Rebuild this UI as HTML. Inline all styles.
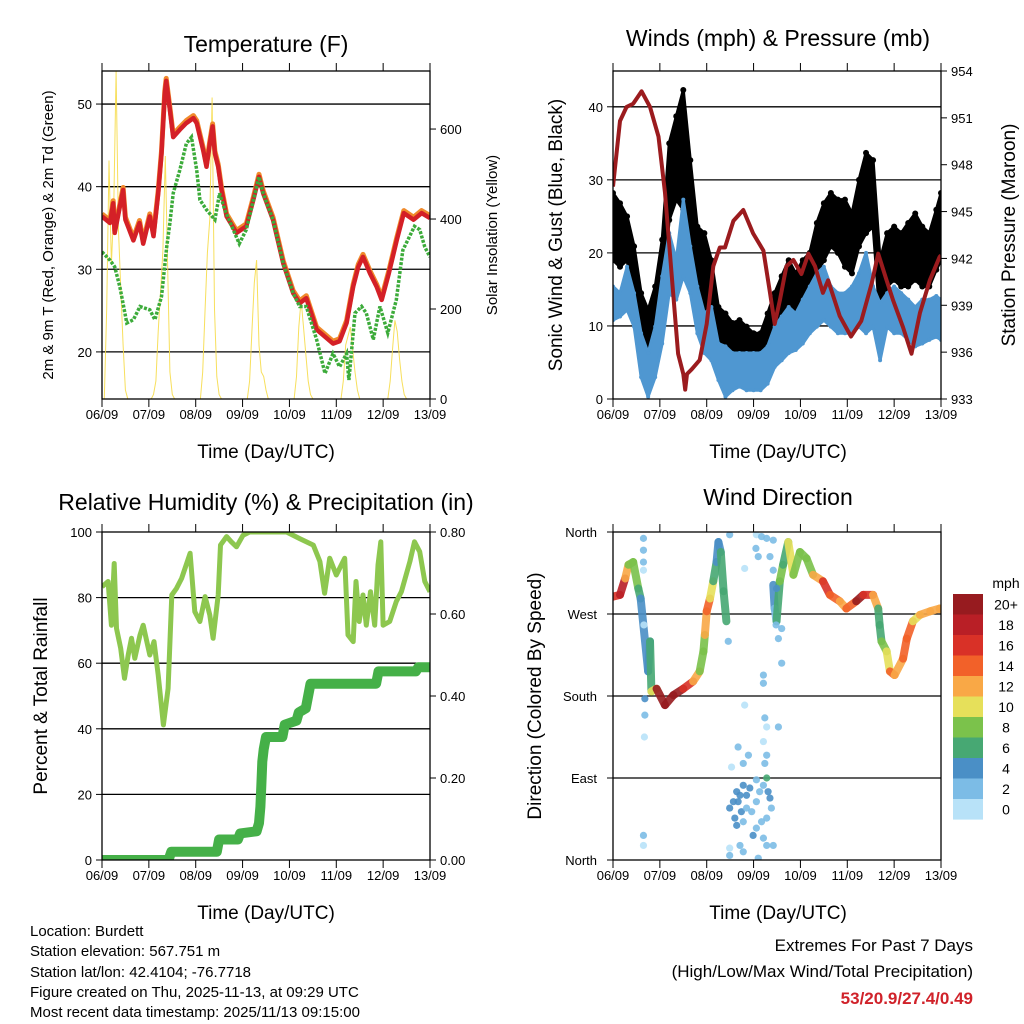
<!DOCTYPE html>
<html><head><meta charset="utf-8">
<style>
html,body{margin:0;padding:0;background:#fff;}
svg{display:block;font-family:"Liberation Sans",Arial,sans-serif;}
</style></head>
<body>
<svg id="chart" width="1024" height="1024" viewBox="0 0 1024 1024" xmlns="http://www.w3.org/2000/svg">
<rect x="0" y="0" width="1024" height="1024" fill="#fff"/>
<g id="layer"></g>
<text x="266" y="52" font-size="23" text-anchor="middle">Temperature (F)</text>
<text x="778" y="46" font-size="23" text-anchor="middle">Winds (mph) &amp; Pressure (mb)</text>
<text x="266" y="510" font-size="23" text-anchor="middle">Relative Humidity (%) &amp; Precipitation (in)</text>
<text x="778" y="505" font-size="23" text-anchor="middle">Wind Direction</text>
<text transform="translate(53,235) rotate(-90)" font-size="15" text-anchor="middle">2m &amp; 9m T (Red, Orange) &amp; 2m Td (Green)</text>
<text transform="translate(497,235) rotate(-90)" font-size="15" text-anchor="middle">Solar Insolation (Yellow)</text>
<text transform="translate(562,235) rotate(-90)" font-size="19" text-anchor="middle">Sonic Wind &amp; Gust (Blue, Black)</text>
<text transform="translate(1015,235) rotate(-90)" font-size="19" text-anchor="middle">Station Pressure (Maroon)</text>
<text transform="translate(47,696) rotate(-90)" font-size="19" text-anchor="middle">Percent &amp; Total Rainfall</text>
<text transform="translate(541,696) rotate(-90)" font-size="19" text-anchor="middle">Direction (Colored By Speed)</text>
<text x="266" y="458" font-size="19" text-anchor="middle">Time (Day/UTC)</text>
<text x="778" y="458" font-size="19" text-anchor="middle">Time (Day/UTC)</text>
<text x="266" y="919" font-size="19" text-anchor="middle">Time (Day/UTC)</text>
<text x="778" y="919" font-size="19" text-anchor="middle">Time (Day/UTC)</text>
<g font-size="15">
<text x="30" y="936">Location: Burdett</text>
<text x="30" y="956">Station elevation: 567.751 m</text>
<text x="30" y="977">Station lat/lon: 42.4104; -76.7718</text>
<text x="30" y="997">Figure created on Thu, 2025-11-13, at 09:29 UTC</text>
<text x="30" y="1017">Most recent data timestamp: 2025/11/13 09:15:00</text>
</g>
<g font-size="17" text-anchor="end">
<text x="973" y="951">Extremes For Past 7 Days</text>
<text x="973" y="977">(High/Low/Max Wind/Total Precipitation)</text>
<text x="973" y="1004" fill="#d0222a" font-weight="bold">53/20.9/27.4/0.49</text>
</g>
</svg>
<script>
// ---------- data ----------
const dayLabels = ["06/09","07/09","08/09","09/09","10/09","11/09","12/09","13/09"];
// Temperature (F)
const tempT = [0,0.17,0.24,0.27,0.45,0.5,0.67,0.8,0.88,1.02,1.1,1.2,1.27,1.34,1.37,1.45,1.52,1.66,1.8,1.95,2.02,2.16,2.23,2.3,2.36,2.41,2.48,2.55,2.66,2.87,3.08,3.23,3.35,3.44,3.65,3.87,4.08,4.22,4.36,4.58,4.93,5.07,5.22,5.36,5.47,5.57,5.72,5.86,5.97,6.12,6.29,6.44,6.65,6.82,7.0];
const tempV = [36.4,35.6,38,34.4,39.6,36,33.5,35.6,33.1,36.4,34,39.2,44,51.3,52.8,49.3,46,46.9,47.7,48.3,47.7,44.4,42.4,45.2,47.3,44,42.4,39.6,36.4,34.4,35.2,38.4,41.2,39.2,36,30.7,27.1,25.9,26.5,22.7,21,21.3,23.5,27.9,30.3,31.5,29.5,27.9,26.3,29.5,33.5,36.8,36,36.8,36.2];
const dewT = [0,0.17,0.27,0.38,0.53,0.67,0.81,1.02,1.13,1.27,1.38,1.45,1.52,1.66,1.8,1.91,2.02,2.09,2.23,2.41,2.51,2.62,2.8,2.93,3.08,3.35,3.44,3.65,3.87,4.08,4.22,4.36,4.58,4.76,4.93,5.07,5.22,5.27,5.4,5.54,5.64,5.79,5.93,6.1,6.28,6.42,6.67,6.78,6.89,7.0];
const dewV = [32.1,31.1,30.3,27.9,23.5,23.9,25.5,25.1,23.9,26.7,32.7,35.6,39.2,42,45.2,46,42,38.4,37.2,36,39.2,37.2,34.8,33.1,34.8,41.2,39.2,36,30.7,27.1,25.5,25.5,21.5,17.4,19.8,18.2,19.8,16.6,24.7,25.5,24.7,21.5,25.5,22.3,26.3,32.3,35.2,34.8,32.7,31.5];
const solarT = [0,0.05,0.1,0.15,0.2,0.25,0.3,0.35,0.4,0.45,0.5,0.55, 1.05,1.1,1.15,1.2,1.25,1.3,1.35,1.4,1.45,1.5,1.55, 2.05,2.1,2.15,2.2,2.25,2.3,2.35,2.4,2.45,2.5,2.55, 3.05,3.1,3.15,3.2,3.25,3.3,3.35,3.4,3.45,3.5,3.55, 4.05,4.1,4.15,4.2,4.25,4.3,4.35,4.4,4.45,4.5,4.55, 5.05,5.1,5.15,5.2,5.25,5.3,5.35,5.4,5.45,5.5,5.55, 6.05,6.1,6.15,6.2,6.25,6.3,6.35,6.4,6.45,6.5,6.55,7.0];
const solarV = [0,0,200,530,300,420,730,380,250,120,20,0, 0,10,40,150,240,330,540,300,60,10,0, 0,0,60,200,325,400,670,200,50,10,0, 0,0,40,150,258,309,120,60,50,20,0, 0,0,50,160,220,160,100,40,10,0,0, 0,0,40,120,140,160,110,60,20,0,0, 0,0,40,110,175,150,90,40,10,0,0,0];
// Winds (mph) & pressure (mb)
const windT = [0,0.15,0.3,0.45,0.6,0.75,0.9,1.05,1.2,1.35,1.5,1.65,1.8,1.95,2.1,2.25,2.4,2.55,2.7,2.85,3.0,3.15,3.3,3.45,3.6,3.75,3.9,4.05,4.2,4.35,4.5,4.65,4.8,4.95,5.1,5.25,5.4,5.55,5.7,5.85,6.0,6.15,6.3,6.45,6.6,6.75,6.9,7.0];
const gustHigh = [28.2,26.8,25,20.9,14.5,12.2,15.4,21.8,35,38.7,42.3,32.7,23.6,22.7,19,12.6,11.7,10.4,10.8,9.9,9,9,11.7,14.5,16.8,19,17.2,19,20,24.1,26.8,28.2,27.3,27.3,25.4,30,33.7,32.7,19,22.7,23.6,22.7,24.1,25.4,23.6,22.7,25.9,28.2];
const gustLow = [19,18.1,19,13.6,6.7,4.4,9.9,14.5,24.5,27.3,25.9,20.9,14.5,10.8,10.8,6.3,4.4,4.4,4.9,5.3,5.3,5.8,6.7,9.9,10.8,11.7,11.7,13.6,14.5,17.2,19,20.9,20,18.1,17.2,20.9,22.7,23.6,10.8,15.4,16.3,15.4,15.4,16.3,15.4,15.4,17.7,19];
const windHigh = [15.4,14.5,18.1,14.5,9,6.3,9.9,16.8,22.7,19,27.3,20.9,15.4,11.7,12.6,7.6,7.2,6.3,6.3,6.3,6.3,6.3,7.2,9.9,11.3,12.6,11.7,13.6,15.4,17.2,18.1,15.4,14.5,14.5,15.4,17.2,20,15.4,13.1,14.5,15.4,14.5,13.6,12.6,13.6,13.6,14.1,13.6];
const windLow = [10.8,11.3,12.2,9.9,3,0.3,3,7.6,14.5,13.6,16.8,14.5,9,6.3,5.3,2.6,0.3,1.2,1.7,1.2,1.2,1.2,2.1,4.4,5.3,6.3,6.7,7.6,9,9.9,10.8,9.9,9,9,9,9.9,9,9.9,5.3,9.9,9,9,8.1,7.2,7.6,8.1,8.5,8.1];
const presT = [0,0.15,0.29,0.43,0.61,0.79,0.97,1.11,1.25,1.39,1.5,1.54,1.58,1.68,1.85,2.0,2.14,2.28,2.39,2.57,2.78,2.99,3.21,3.35,3.45,3.56,3.7,3.85,4.02,4.17,4.31,4.48,4.59,4.84,5.08,5.3,5.52,5.66,5.84,5.98,6.19,6.37,6.55,6.76,6.97,7.0];
const presV = [946.6,950.8,951.7,951.9,952.7,951.7,949.8,946.2,941,935.9,934.6,933.6,934.6,934.9,935.5,937.8,941.5,942.7,942.7,944.4,945.1,943.6,942.5,939.8,937.8,939.3,941.5,941.9,941,942.3,941.5,939.8,940.6,938.3,937,938,940.4,942.3,940.6,939.3,937.6,935.9,938.5,940.6,942.1,942.2];
// RH (%) & precipitation (in)
const rhT = [0,0.13,0.2,0.26,0.31,0.4,0.48,0.56,0.63,0.7,0.81,0.88,1.02,1.11,1.2,1.31,1.41,1.49,1.59,1.7,1.88,1.98,2.09,2.2,2.3,2.37,2.48,2.53,2.66,2.76,2.87,3.01,3.15,3.94,4.22,4.51,4.65,4.75,4.86,5.0,5.18,5.25,5.36,5.42,5.49,5.57,5.64,5.73,5.82,5.89,5.95,6.0,6.14,6.28,6.39,6.57,6.67,6.78,6.89,7.0];
const rhV = [83.3,84.9,71.6,90.4,70.6,64.5,55.4,62.5,67.6,61.5,68.6,71.6,62.5,66.6,56.4,41.2,52.3,80.8,82.8,85.9,93.5,75.7,72.7,80.3,74.7,67.6,80.8,96,98.6,97,95.5,99,100,100,98,96,91,81.3,92,86.9,92,68.6,66.6,84.9,72.7,80.8,71.6,81.8,71.6,89.9,97,71.6,72.7,78.8,81.8,91,97,94,84.9,81.8];
const precipT = [0,1.42,1.48,2.45,2.5,2.9,2.95,3.3,3.35,3.38,3.4,3.42,3.45,3.5,3.85,3.9,4.15,4.2,4.35,4.45,5.85,5.9,6.7,6.75,7.0];
const precipV = [0,0,0.02,0.02,0.05,0.05,0.065,0.07,0.09,0.13,0.18,0.24,0.27,0.3,0.3,0.33,0.34,0.36,0.37,0.43,0.43,0.46,0.46,0.47,0.47];
// Wind direction track (deg) colored by speed (mph)
const dirT = [0,0.15,0.26,0.33,0.43,0.54,0.59, 0.75,0.79,0.82,0.93,1.11,1.29,1.5,1.71,1.85,1.93,1.96,2.0,2.07,2.14,2.21,2.25,2.3,2.36,2.42];
const dirV = [289,291,309,324,327,298,287, 207,240,185,188,170,181,188,196,207,229,247,273,287,306,327,349,338,295,262];
const dirS = [15,16,18,12,8,8,6, 4,4,6,10,20,20,20,16,12,8,8,12,14,10,6,4,4,6,6];
const dirT2 = [3.42,3.45,3.49,3.56,3.63,3.74,3.85,3.99,4.13,4.27,4.48,4.63,4.84,4.98,5.19,5.34,5.55,5.66,5.69,5.73,5.84,5.91,6.01,6.19,6.27,6.4,6.55,6.77,6.97,7.0];
const dirV2 = [302,276,262,306,324,349,313,338,331,313,306,291,284,276,284,291,291,276,258,240,229,207,203,221,243,262,269,273,276,275];
const dirS2 = [4,4,2,6,8,6,10,8,8,8,12,16,14,12,14,20,16,12,6,6,8,10,14,12,14,14,10,12,12,12];
const scatT = [2.49,2.57,2.64,2.71,2.78,2.85,2.92,2.67,2.74,2.6,2.64,2.78,2.85,2.96,3.06,3.13,3.21,3.28,3.31,3.35,3.38,3.28,3.17,3.06,2.99,3.21,3.28,2.71,2.78,2.49,2.49,3.1,3.42,3.24,3.28,3.21,3.28,3.24,3.21,3.21,2.81,3.53,2.67,2.89,2.78,2.53,3.06, 0.65,0.65,0.65,0.65,0.66,0.68,0.68,0.67,0.65,0.65,2.49,2.81,3.06,3.17,3.28,3.42,3.05,3.1,3.35,3.42,3.48,3.53,3.6,3.49,2.46,3.6];
const scatV = [57,64,75,71,82,71,79,64,53,46,38,42,57,53,64,75,82,90,75,68,57,46,42,35,27,24,16,16,9,13,5,2,16,106,115,130,146,156,194,203,170,146,124,115,106,102,88, 353,340,327,318,258,177,159,135,27,16,357,320,357,355,353,351,342,333,333,318,258,243,216,298,240,254];
const scatS = [4,4,4,4,4,4,4,4,4,4,4,2,2,2,2,2,2,6,4,4,2,2,2,2,4,2,2,2,2,0,2,2,2,2,2,0,0,2,2,2,0,2,2,2,2,0,2, 2,2,2,0,0,4,2,0,2,0,2,0,0,2,2,2,2,2,2,2,2,2,2,4,2,2];
const cbLabels = ["20+","18","16","14","12","10","8","6","4","2","0"];
const cbColors = ["#971b1f","#b91f26","#d93127","#f26129","#f9a846","#e6e05a","#7bc24b","#47a873","#4a8fc6","#7cbce6","#b8e2f8"];

// ---------- helpers ----------
const NS="http://www.w3.org/2000/svg";
const layer=document.getElementById('layer');
function mk(tag,attrs,parent){const e=document.createElementNS(NS,tag);for(const k in attrs)e.setAttribute(k,attrs[k]);(parent||layer).appendChild(e);return e;}
function panel(x0,y0,name){
  const g=mk('g',{});
  
  
  return {g,x0,y0,x1:x0+328,y1:y0+328,X:d=>x0+d*328/7};
}
function lineScale(v0,v1,y0,y1){return v=>y1-(v-v0)/(v1-v0)*(y1-y0);}
function pathOf(ts,vs,X,Y){return ts.map((t,i)=>(i?'L':'M')+X(t).toFixed(1)+','+Y(vs[i]).toFixed(1)).join('');}
function frame(p,leftTicks,leftY,rightTicks,rightY,gridVals,gridY){
  const clipId='clip'+p.x0+'_'+p.y0;
  const cp=mk('clipPath',{id:clipId},p.g);mk('rect',{x:p.x0,y:p.y0,width:328,height:328},cp);
  gridVals.forEach(v=>{const y=gridY(v);const l=mk('line',{x1:p.x0,x2:p.x1,y1:y,y2:y,stroke:'#000','stroke-width':1.3},p.g);
    
    });
  dayLabels.forEach((lab,i)=>{const x=p.X(i);
    mk('line',{x1:x,x2:x,y1:p.y0-8,y2:p.y0,stroke:'#000','stroke-width':1},p.g);
    mk('line',{x1:x,x2:x,y1:p.y1,y2:p.y1+8,stroke:'#000','stroke-width':1},p.g);
    const t=mk('text',{x:x,y:p.y1+20,'font-size':13,'text-anchor':'middle'},p.g);t.textContent=lab;
    
    });
  leftTicks.forEach(v=>{const y=leftY(v);
    mk('line',{x1:p.x0-6,x2:p.x0,y1:y,y2:y,stroke:'#000'},p.g);
    const t=mk('text',{x:p.x0-10,y:y+5,'font-size':13,'text-anchor':'end'},p.g);t.textContent=v;
    
    });
  rightTicks.forEach(v=>{const y=rightY(v);
    mk('line',{x1:p.x1,x2:p.x1+6,y1:y,y2:y,stroke:'#000'},p.g);
    const t=mk('text',{x:p.x1+10,y:y+5,'font-size':13},p.g);t.textContent=v;
    
    });
  const data=mk('g',{'clip-path':'url(#'+clipId+')'},p.g);
  return data;
}
function border(p){const r=mk('rect',{x:p.x0,y:p.y0,width:328,height:328,fill:'none',stroke:'#000','stroke-width':1.3},p.g);
  
  }
function spdColor(s){const idx=Math.max(0,Math.min(10,Math.floor(s/2)));return cbColors[10-idx];}

// ---------- panel 1: temperature ----------
{const p=panel(102,71,'temperature-panel');
 const Y=lineScale(14.3,54,71,399), YS=lineScale(0,729,71,399);
 const d=frame(p,[20,30,40,50],Y,[0,200,400,600],YS,[20,30,40,50],Y);
 const s=mk('path',{d:pathOf(solarT,solarV,p.X,YS),fill:'none',stroke:'#f6dc4a','stroke-width':1,opacity:0.9},d);
 
 
 const o=mk('path',{d:pathOf(tempT,tempV.map(v=>v+0.3),p.X,Y),fill:'none',stroke:'#f08a2c','stroke-width':5,'stroke-linejoin':'round'},d);
 
 
 const r=mk('path',{d:pathOf(tempT,tempV,p.X,Y),fill:'none',stroke:'#d42027','stroke-width':4.5,'stroke-linejoin':'round'},d);
 
 
 const g=mk('path',{d:pathOf(dewT,dewV,p.X,Y),fill:'none',stroke:'#3cab3a','stroke-width':3.5,'stroke-dasharray':'3 1.5'},d);
 
 
 border(p);}

// ---------- panel 2: winds ----------
{const p=panel(613,71,'winds-panel');
 const Y=lineScale(0,44.9,71,399), YP=lineScale(933,954,71,399);
 const d=frame(p,[0,10,20,30,40],Y,[933,936,939,942,945,948,951,954],YP,[10,20,30,40],Y);
 const band=(hi,lo,col,name,r)=>{
   const dd=pathOf(windT,hi,p.X,Y)+pathOf(windT.slice().reverse(),lo.slice().reverse(),p.X,Y).replace('M','L')+'Z';
   const e=mk('path',{d:dd,fill:col,stroke:col,'stroke-width':3,'stroke-linejoin':'round'},d);
   
   
   windT.forEach((t,i)=>{[hi[i],lo[i]].forEach(v=>{const c=mk('circle',{cx:p.X(t),cy:Y(v),r:r,fill:col},d);
     
     });});
 };
 band(gustHigh,gustLow,'#000','gust-band',3);
 band(windHigh,windLow,'#4f97d1','sonic-wind-band',2);
 const pr=mk('path',{d:pathOf(presT,presV,p.X,YP),fill:'none',stroke:'#9b1b1e','stroke-width':4,'stroke-linejoin':'round'},d);
 
 
 border(p);}

// ---------- panel 3: RH & precip ----------
{const p=panel(102,532,'humidity-panel');
 const Y=lineScale(0,100,532,860), YP=lineScale(0,0.8,532,860);
 const d=frame(p,[0,20,40,60,80,100],Y,['0.00','0.20','0.40','0.60','0.80'],v=>YP(+v),[20,40,60,80],Y);
 const rh=mk('path',{d:pathOf(rhT,rhV,p.X,Y),fill:'none',stroke:'#8dc74f','stroke-width':5,'stroke-linejoin':'round'},d);
 
 
 const pc=mk('path',{d:pathOf(precipT,precipV,p.X,YP),fill:'none',stroke:'#45b048','stroke-width':10,'stroke-linejoin':'round','stroke-linecap':'round'},d);
 
 
 border(p);}

// ---------- panel 4: wind direction ----------
{const p=panel(613,532,'direction-panel');
 const Y=lineScale(0,360,532,860);
 const labs=['North','East','South','West','North'];
 const d=frame(p,[],Y,[],Y,[90,180,270],Y);
 labs.forEach((l,i)=>{const y=Y(i*90);mk('line',{x1:p.x0-6,x2:p.x0,y1:y,y2:y,stroke:'#000'},p.g);
   const t=mk('text',{x:p.x0-16,y:y+5,'font-size':13,'text-anchor':'end'},p.g);t.textContent=l;
   
   });
 const track=(T,V,S)=>{for(let i=0;i<T.length;i++){
   if(i>0){const l=mk('line',{x1:p.X(T[i-1]),y1:Y(V[i-1]),x2:p.X(T[i]),y2:Y(V[i]),stroke:spdColor(S[i]),'stroke-width':8,'stroke-linecap':'round',opacity:0.9},d);
     
     }
 }};
 track(dirT,dirV,dirS);track(dirT2,dirV2,dirS2);
 scatT.forEach((t,i)=>{const c=mk('circle',{cx:p.X(t),cy:Y(scatV[i]),r:3.6,fill:spdColor(scatS[i]),opacity:0.9},d);
   
   });
 border(p);
 const cb=mk('g',{});
 
 
 const ut=mk('text',{x:1006,y:588,'font-size':14,'text-anchor':'middle'},cb);ut.textContent='mph';
 cbLabels.forEach((l,i)=>{const y=594+i*20.5;
   mk('rect',{x:953,y:y,width:30,height:20.6,fill:cbColors[i]},cb);
   const t=mk('text',{x:1006,y:y+15.5,'font-size':14,'text-anchor':'middle'},cb);t.textContent=l;});
}
</script>
</body></html>
